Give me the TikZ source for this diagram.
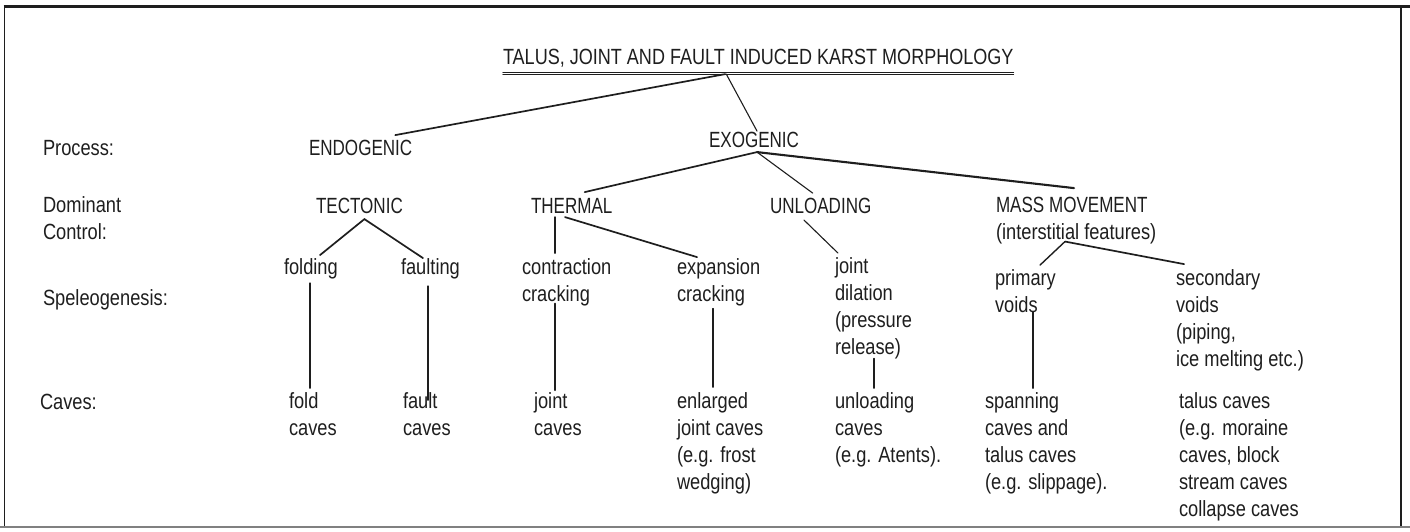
\documentclass[tikz,border=0pt]{standalone}
\usepackage{fontspec}
\setmainfont[FakeStretch=0.83]{Liberation Sans}
\newfontfamily\capsf[FakeStretch=0.775]{Liberation Sans}
\newfontfamily\titlef[FakeStretch=0.82]{Liberation Sans}
\definecolor{ink}{HTML}{1E1E1E}
\newcommand\fsz{\fontsize{22}{27}\selectfont}
\tikzset{
  lbl/.style={anchor=north west, inner sep=0pt, outer sep=0pt, align=left, text=ink, font=\fsz},
  caps/.style={lbl, font=\fsz\capsf},
  thk/.style={draw=ink, line width=1.7pt, line cap=round},
  thn/.style={draw=ink, line width=1.1pt, line cap=round},
  frame/.style={draw=ink, line width=1.8pt},
}
\begin{document}
\begin{tikzpicture}[x=1pt,y=-1pt]
\useasboundingbox (0,0) rectangle (1410,532);
% frame
\draw[frame, line width=3pt] (3.5,7) -- (1410,7);
\draw[frame] (4.5,7) -- (4.5,527);
\draw[frame, line width=1.5pt] (1401,7) -- (1401,527);
\draw[draw=gray, line width=1.2pt] (0,527) -- (1410,527);
% title
\node[lbl, font=\fsz\titlef] (title) at (503,46.1) {\strut TALUS, JOINT AND FAULT INDUCED KARST MORPHOLOGY};
\draw[thn] ([yshift=1pt]title.south west) -- ([yshift=1pt]title.south east);
\draw[thn] ([yshift=-1.5pt]title.south west) -- ([yshift=-1.5pt]title.south east);
% row labels
\node[lbl] (proc) at (43,136.1) {\strut Process:};
\node[lbl] (dom) at (43,193.1) {\strut Dominant\\Control:};
\node[lbl] (spel) at (43,286.1) {\strut Speleogenesis:};
\node[lbl] (cav) at (40,390.1) {\strut Caves:};
% process
\node[caps] (endo) at (309,136.1) {\strut ENDOGENIC};
\node[caps] (exo) at (709,128.1) {\strut EXOGENIC};
% dominant control
\node[caps] (tect) at (316,194.1) {\strut TECTONIC};
\node[caps] (therm) at (531,194.1) {\strut THERMAL};
\node[caps] (unl) at (770,194.1) {\strut UNLOADING};
\node[lbl] (mass) at (996,193.1) {\strut{\capsf MASS MOVEMENT}\\(interstitial features)};
% speleogenesis
\node[lbl] (fold) at (284,255.1) {\strut folding};
\node[lbl] (fault) at (401,255.1) {\strut faulting};
\node[lbl] (contr) at (522,255.1) {\strut contraction\\cracking};
\node[lbl] (expan) at (677,255.1) {\strut expansion\\cracking};
\node[lbl] (jdil) at (835,254.1) {\strut joint\\dilation\\(pressure\\release)};
\node[lbl] (prim) at (995,266.1) {\strut primary\\voids};
\node[lbl] (sec) at (1176,266.1) {\strut secondary\\voids\\(piping,\\ice melting etc.)};
% caves
\node[lbl] (foldc) at (289,389.1) {\strut fold\\caves};
\node[lbl] (faultc) at (403,389.1) {\strut fault\\caves};
\node[lbl] (jointc) at (534,389.1) {\strut joint\\caves};
\node[lbl] (enl) at (677,389.1) {\strut enlarged\\joint caves\\(e.g. frost\\wedging)};
\node[lbl] (unlc) at (835,389.1) {\strut unloading\\caves\\(e.g. Atents).};
\node[lbl] (span) at (985,389.1) {\strut spanning\\caves and\\talus caves\\(e.g. slippage).};
\node[lbl] (talus) at (1179,389.1) {\strut talus caves\\(e.g. moraine\\caves, block\\stream caves\\collapse caves};
% connectors
\draw[thk] ([xshift=-33pt,yshift=-1pt]title.south) -- ([xshift=-17pt,yshift=1pt]endo.north east);
\draw[thn] ([xshift=-32pt,yshift=-1pt]title.south) -- ([xshift=3pt,yshift=-3pt]exo.north);
\draw[thk] ([xshift=3pt,yshift=3pt]exo.south) -- ([xshift=13pt,yshift=2pt]therm.north);
\draw[thn] ([xshift=3pt,yshift=3pt]exo.south) -- ([xshift=-8pt,yshift=1pt]unl.north);
\draw[thk, line width=2.1pt] ([xshift=3pt,yshift=3pt]exo.south) -- ([xshift=78pt,yshift=5pt]mass.north west);
\draw[thk] ([xshift=36pt,yshift=0pt]fold.north west) -- ([xshift=5pt,yshift=2pt]tect.south) -- ([xshift=22pt,yshift=-3pt]fault.north west);
\draw[thk] ([xshift=24pt,yshift=4pt]therm.south west) -- ([xshift=33pt,yshift=2pt]contr.north west);
\draw[thk] ([xshift=34pt,yshift=4pt]therm.south west) -- ([xshift=20pt,yshift=-2pt]expan.north west);
\draw[thn] ([xshift=34pt,yshift=1pt]unl.south west) -- ([xshift=3pt,yshift=1pt]jdil.north west);
\draw[thn, line width=1.4pt] ([xshift=45pt,yshift=1pt]prim.north west) -- ([xshift=69pt,yshift=2pt]mass.south west);
\draw[thk] ([xshift=69pt,yshift=2pt]mass.south west) -- ([xshift=8pt,yshift=2pt]sec.north west);
\draw[thk, line width=1.5pt] ([xshift=26pt,yshift=-1pt]fold.south west) -- ([xshift=21pt,yshift=1pt]foldc.north west);
\draw[thk, line width=1.5pt] ([xshift=27pt,yshift=-4pt]fault.south west) -- ([xshift=25pt,yshift=-11pt]faultc.north west);
\draw[thk, line width=1.9pt] ([xshift=33pt,yshift=2pt]contr.south west) -- ([xshift=21pt,yshift=-1pt]jointc.north west);
\draw[thk, line width=1.5pt] ([xshift=36pt,yshift=-3pt]expan.south west) -- ([xshift=36pt,yshift=2pt]enl.north west);
\draw[thk, line width=1.5pt] ([xshift=39pt]jdil.south west) -- ([xshift=39pt,yshift=1pt]unlc.north west);
\draw[thk, line width=1.7pt] ([xshift=38pt,yshift=0pt]prim.south west) -- ([xshift=48pt,yshift=1pt]span.north west);
\end{tikzpicture}
\end{document}
